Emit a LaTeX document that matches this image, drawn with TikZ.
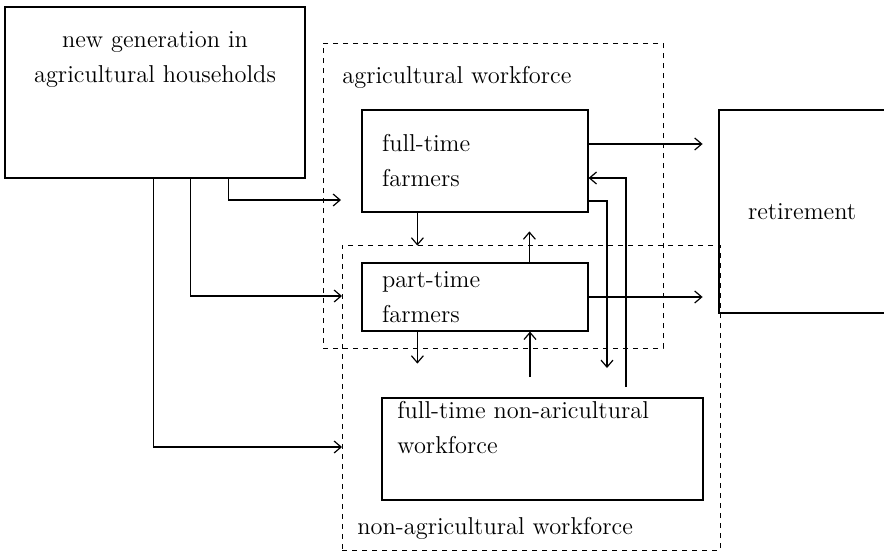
\documentclass[tikz,border=0pt]{standalone}
\usetikzlibrary{arrows.meta}
\begin{document}
\begin{tikzpicture}[
    x=0.5pt, y=-0.5pt,
    every node/.style={font=\fontsize{12.2}{17.5}\selectfont},
    box/.style={draw, line width=0.6pt, inner sep=0pt},
    zone/.style={draw, dash pattern=on 2.5pt off 2.5pt, line width=0.5pt, inner sep=0pt},
    tag/.style={inner sep=0pt, align=left},
    flow/.style={-{Straight Barb[length=3.5pt,width=6pt]}, line width=0.6pt}
  ]
  \useasboundingbox (0,0) rectangle (884,553);
  % Zonas discontinuas de la fuerza de trabajo
  \node[zone, minimum width=170pt, minimum height=152.5pt] (agr) at (493,195.5) {};
  \node[zone, minimum width=189pt, minimum height=152.5pt] (nag) at (531,397.5) {};
  \node[tag, anchor=west] (agrtxt) at (342,77) {agricultural workforce};
  \node[tag, anchor=west] (nagtxt) at (357,528) {non-agricultural workforce};
  % Cajas
  \node[box, minimum width=150pt, minimum height=85.5pt] (gen) at (155,92.5) {};
  \node[tag, align=center] (gentxt) at (155,60) {new generation in\\agricultural households};
  \node[box, minimum width=113pt, minimum height=51pt, text width=93pt, inner xsep=10pt, align=left] (ftf) at (475,161) {full-time\\farmers};
  \node[box, minimum width=113pt, minimum height=34pt, text width=93pt, inner xsep=10pt, align=left] (ptf) at (475,297) {part-time\\farmers};
  \node[box, minimum width=160.5pt, minimum height=51pt] (fnw) at (542.5,449) {};
  \node[tag, anchor=north west] (fnwtxt) at (397,401) {full-time non-aricultural\\workforce};
  \node[box, minimum width=91pt, minimum height=101.5pt, text width=62pt, inner xsep=14.5pt, align=left] (ret) at (810,211.5) {retirement};
  % Extremos libres de las flechas
  \coordinate (in1) at (341,200);
  \coordinate (in2) at (342,296);
  \coordinate (in3) at (342,447);
  \coordinate (up1) at (530,377);
  \coordinate (dn1) at (607,368);
  \coordinate (up2) at (626,387);
  % Flujos
  \draw[flow] ([xshift=112pt]gen.south west) |- (in1);
  \draw[flow] ([xshift=93pt]gen.south west) |- (in2);
  \draw[flow] ([xshift=74.5pt]gen.south west) |- (in3);
  \draw[flow] ([xshift=28pt]ftf.south west) -- ++(0,33);
  \draw[flow] ([xshift=84pt]ptf.north west) -- ++(0,-31);
  \draw[flow] ([xshift=28pt]ptf.south west) -- ++(0,32);
  \draw[flow] (up1) -- (up1 |- ptf.south);
  \draw[flow] ([yshift=8.5pt]ftf.east) -- ++(114,0);
  \draw[flow] (ptf.east) -- ++(114,0);
  \draw[flow] ([yshift=-20pt]ftf.east) -| (dn1);
  \draw[flow] (up2) |- ([yshift=-8.5pt]ftf.east);
\end{tikzpicture}
\end{document}
